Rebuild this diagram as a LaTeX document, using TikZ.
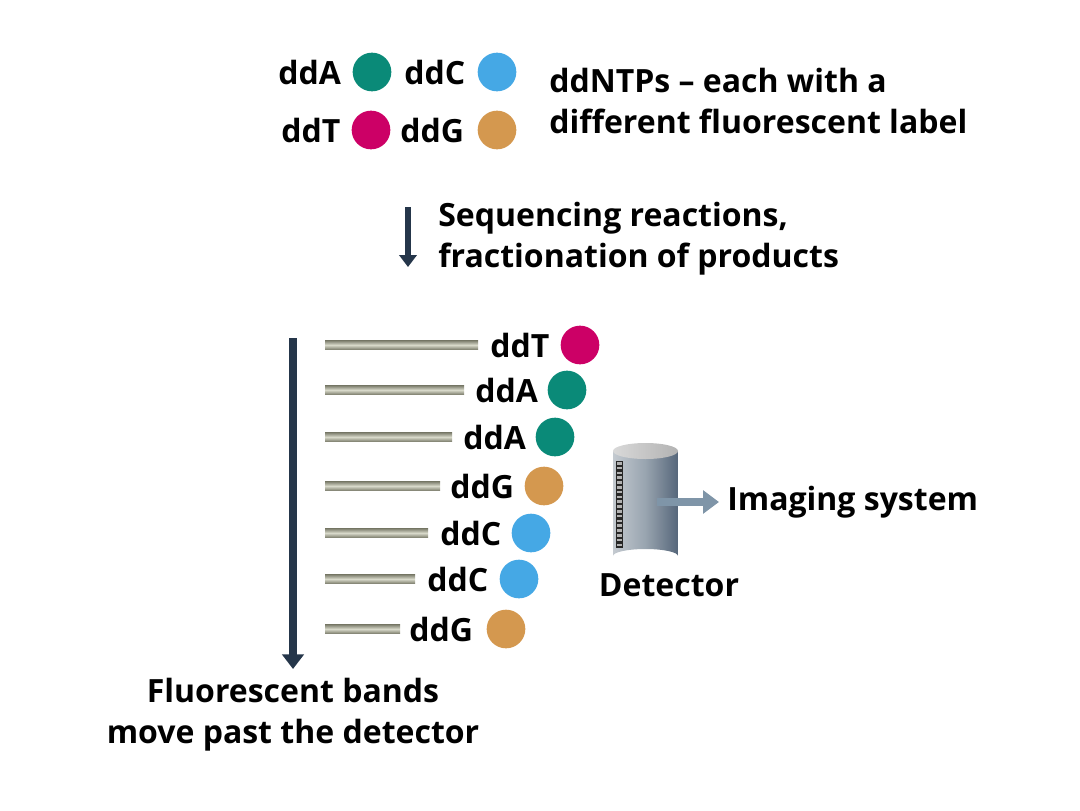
\documentclass[tikz,border=0pt]{standalone}
\usepackage{fontspec}
\setmainfont{Open Sans}
\usetikzlibrary{arrows.meta}
\definecolor{cgreen}{HTML}{0A8A78}
\definecolor{cblue}{HTML}{45A8E5}
\definecolor{cmag}{HTML}{CC0066}
\definecolor{corange}{HTML}{D4984F}
\definecolor{navy}{HTML}{25364A}
\definecolor{garrow}{HTML}{7F95A8}
\definecolor{bandedge}{HTML}{7E7F6E}
\definecolor{bandmid}{HTML}{D9DACB}
\definecolor{cylL}{HTML}{C4CAD0}
\definecolor{cylM}{HTML}{98A4AF}
\definecolor{cylR}{HTML}{56667A}
\tikzset{
  lbl/.style={font=\fontsize{24}{31}\selectfont\bfseries, inner sep=0pt, anchor=west},
  txt/.style={font=\fontsize{24}{31}\selectfont\bfseries, inner sep=0pt, align=left},
  dot/.style={circle, minimum size=29pt, inner sep=0pt, draw=none},
  band/.style={draw=none, top color=bandedge, bottom color=bandedge, middle color=bandmid},
  bigarrow/.style={draw=navy, line width=5.5pt, -{Triangle[width=16pt,length=11pt]}},
}
\begin{document}
\begin{tikzpicture}[x=0.75pt,y=-0.75pt]
\useasboundingbox (0,0) rectangle (1080,810);
% legend
\node[lbl] (tA) at (278,72) {ddA};
\node[dot, fill=cgreen] (cA) at (372,72) {};
\node[lbl] (tC) at (404,72) {ddC};
\node[dot, fill=cblue] (cC) at (497,72) {};
\node[lbl] (tT) at (281,130) {ddT};
\node[dot, fill=cmag] (cT) at (371,130) {};
\node[lbl] (tG) at (400,130) {ddG};
\node[dot, fill=corange] (cG) at (497,130) {};
\node[txt, anchor=west] (ddntp) at (549,101) {ddNTPs -- each with a\\different fluorescent label};
% step arrow
\coordinate (s1) at (408,207);
\coordinate (s2) at (408,267);
\draw[draw=navy, line width=4pt, -{Triangle[width=13pt,length=9pt]}] (s1) -- (s2);
\node[txt, anchor=west] (seq) at (438,239) {Sequencing reactions,\\fractionation of products};
% long arrow
\coordinate (a1) at (293,338);
\coordinate (a2) at (293,669);
\draw[bigarrow] (a1) -- (a2);
% bands
\foreach \y/\xr/\lx/\cx/\name/\col [count=\i] in {
  345/478/490/580/ddT/cmag,
  390/464/475/567/ddA/cgreen,
  437/452/463/555/ddA/cgreen,
  486/440/450/544/ddG/corange,
  533/428/440/531/ddC/cblue,
  579/415/427/519/ddC/cblue,
  629/400/409/506/ddG/corange}{
  \path[band] (325,\y-4.5) rectangle (\xr,\y+4.5);
  \node[lbl] (b\i) at (\lx,\y) {\name};
  \node[dot, fill=\col] (d\i) at (\cx,\y) {};
}
% detector
\shade[left color=cylL, right color=cylR, middle color=cylM]
  (613,451) -- (613,556) arc[start angle=180, end angle=360, x radius=32.5, y radius=7] -- (678,451) -- cycle;
\shade[left color=gray!30, right color=gray!60] (645.5,451) ellipse[x radius=32.5, y radius=8];
\fill[black!85] (616,461) rectangle (623,548);
\foreach \k in {0,...,17}{
  \fill[gray!60] (616.8,462+\k*4.8) rectangle (622.2,464.6+\k*4.8);
}
\coordinate (det) at (657,502);
\coordinate (img) at (719,502);
\draw[draw=garrow, line width=6pt, -{Triangle[width=17pt,length=12pt]}] (det) -- (img);
\node[lbl] (imaging) at (727,502) {Imaging system};
\node[txt, anchor=center] (detector) at (669,585) {Detector};
% bottom text
\node[txt, align=center, anchor=center] (bottom) at (293,715) {Fluorescent bands\\move past the detector};
\end{tikzpicture}
\end{document}
